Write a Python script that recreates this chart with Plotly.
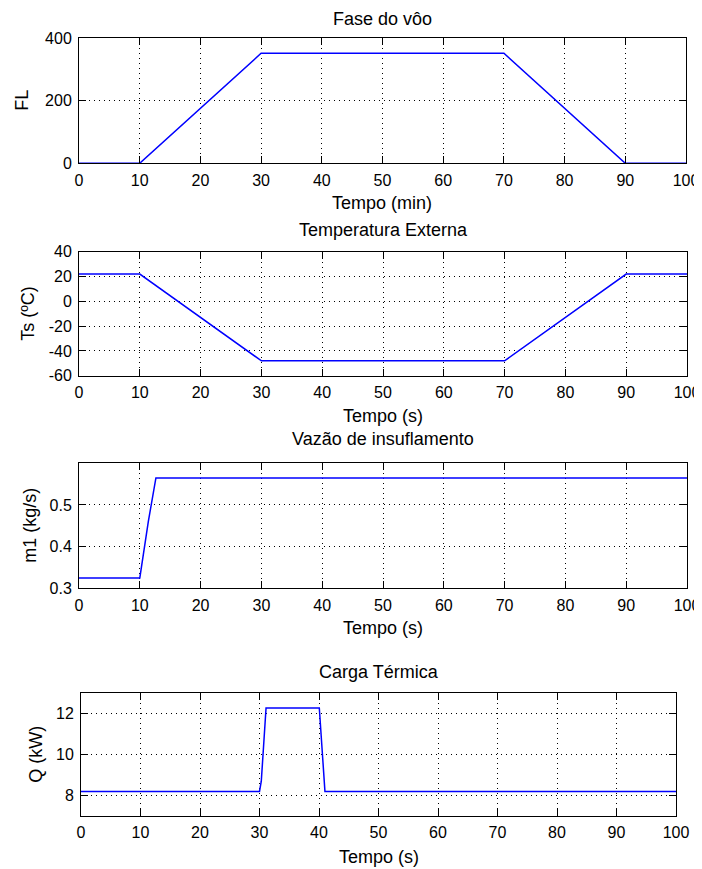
import plotly.graph_objects as go

# ---- data ----
t_fl = [0, 10, 30, 70, 90, 100]
fl = [0, 0, 352, 352, 0, 0]

t_ts = [0, 10, 30, 70, 90, 100]
ts = [22, 22, -48, -48, 22, 22]

t_m1 = [0, 10, 11.4, 12.65, 100]
m1 = [0.325, 0.325, 0.46, 0.565, 0.565]

t_q = [0, 30.0, 30.3, 30.5, 30.7, 30.95, 31.1, 40.05, 40.2, 40.45, 40.65, 40.85, 41.0, 100]
q = [8.2, 8.2, 8.7, 9.7, 10.7, 11.7, 12.28, 12.28, 11.7, 10.7, 9.7, 8.7, 8.2, 8.2]

titles = ["Fase do vôo", "Temperatura Externa", "Vazão de insuflamento", "Carga Térmica"]
xlabels = ["Tempo (min)", "Tempo (s)", "Tempo (s)", "Tempo (s)"]
ylabels = ["FL", "Ts (ºC)", "m1 (kg/s)", "Q (kW)"]

x_ticks = list(range(0, 101, 10))
y_ranges = [[0, 400], [-60, 40], [0.3, 0.6], [7, 13]]
y_ticks = [[0, 200, 400], [-60, -40, -20, 0, 20, 40], [0.3, 0.4, 0.5], [8, 10, 12]]
y_ticktext = [["0", "200", "400"], ["-60", "-40", "-20", "0", "20", "40"], ["0.3", "0.4", "0.5"], ["8", "10", "12"]]

# ---- layout geometry (window pixels; page body has an 8px margin) ----
OFF = 8
EXTRA = 12  # room so the rightmost "100" tick labels are not dropped
W, H = 702 - OFF + EXTRA, 869 - OFF
boxes = [  # left, right, top, bottom (window pixels)
    (79, 686, 38.3, 163.3),
    (79, 687, 251.7, 375.7),
    (79, 687, 463.3, 588.3),
    (81, 676, 693.3, 816.0),
]
title_y = [None, 230, 439, 672]  # first title is pinned to the top edge
xlabel_y = [203, 416, 628, 857]
ylabel_x = [22, 28, 30, 36]

FONT = "Liberation Sans"
FS = 18
TFS = 16


def px(v):
    return (v - OFF) / W


def py(v):
    return 1 - (v - OFF) / H


fig = go.Figure()
series = [(t_fl, fl), (t_ts, ts), (t_m1, m1), (t_q, q)]
annotations = []
for i, ((tx, ty), box) in enumerate(zip(series, boxes)):
    n = "" if i == 0 else str(i + 1)
    fig.add_trace(go.Scatter(x=tx, y=ty, mode="lines", line=dict(color="#0000ff", width=1.5),
                             xaxis="x" + n, yaxis="y" + n, showlegend=False, hoverinfo="skip"))
    l, r, t, b = box
    common = dict(showline=True, linecolor="black", linewidth=1, mirror="ticks",
                  ticks="inside", ticklen=7, tickcolor="black", showgrid=True,
                  gridcolor="black", gridwidth=1, griddash="1px,4px", zeroline=False,
                  automargin=False,
                  tickfont=dict(family=FONT, size=TFS, color="black"))
    fig.update_layout(**{
        "xaxis" + n: dict(domain=[px(l), px(r)], range=[0, 100], tickvals=x_ticks,
                          anchor="y" + n, ticklabelstandoff=2, **common),
        "yaxis" + n: dict(domain=[py(b), py(t)], range=y_ranges[i], tickvals=y_ticks[i],
                          ticktext=y_ticktext[i], anchor="x" + n, ticklabelstandoff=3, **common),
    })
    cx = px((l + r) / 2)
    if title_y[i] is None:
        annotations.append(dict(text=titles[i], x=cx, y=1, xref="paper", yref="paper",
                                xanchor="center", yanchor="top", borderpad=0, showarrow=False,
                                font=dict(family=FONT, size=FS, color="black")))
    else:
        annotations.append(dict(text=titles[i], x=cx, y=py(title_y[i]), xref="paper", yref="paper",
                                xanchor="center", yanchor="middle", showarrow=False,
                                font=dict(family=FONT, size=FS, color="black")))
    annotations.append(dict(text=xlabels[i], x=cx, y=py(xlabel_y[i]), xref="paper", yref="paper",
                            xanchor="center", yanchor="middle", showarrow=False,
                            font=dict(family=FONT, size=FS, color="black")))
    annotations.append(dict(text=ylabels[i], x=px(ylabel_x[i]), y=py((t + b) / 2), xref="paper",
                            yref="paper", xanchor="center", yanchor="middle", textangle=-90,
                            showarrow=False, font=dict(family=FONT, size=FS, color="black")))

fig.update_layout(width=W, height=H, margin=dict(l=0, r=0, t=0, b=0),
                  paper_bgcolor="white", plot_bgcolor="white", annotations=annotations)

fig.write_html("out.html")
